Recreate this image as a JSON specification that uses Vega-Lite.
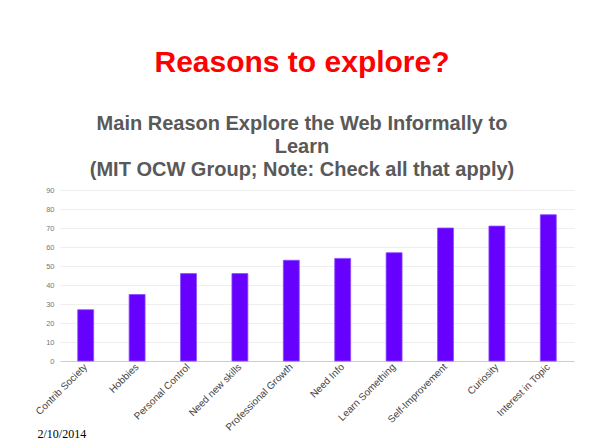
{
  "$schema": "https://vega.github.io/schema/vega-lite/v6.json",
  "width": 514,
  "height": 171,
  "autosize": "none",
  "padding": {"left": 60, "top": 190, "right": 20, "bottom": 86},
  "background": "white",
  "title": {
    "text": "Reasons to explore?",
    "subtitle": ["Main Reason Explore the Web Informally to", "Learn", "(MIT OCW Group; Note: Check all that apply)"],
    "anchor": "middle",
    "dx": -15,
    "font": "Liberation Sans",
    "fontSize": 30,
    "fontWeight": "bold",
    "color": "#ff0000",
    "subtitleFont": "Liberation Sans",
    "subtitleFontSize": 20,
    "subtitleFontWeight": "bold",
    "subtitleColor": "#595959",
    "subtitleLineHeight": 23,
    "subtitlePadding": 36,
    "offset": 6
  },
  "data": {
    "values": [
      {"reason": "Contrib Society", "count": 27},
      {"reason": "Hobbies", "count": 35},
      {"reason": "Personal Control", "count": 46},
      {"reason": "Need new skills", "count": 46},
      {"reason": "Professional Growth", "count": 53},
      {"reason": "Need Info", "count": 54},
      {"reason": "Learn Something", "count": 57},
      {"reason": "Self-Improvement", "count": 70},
      {"reason": "Curiosity", "count": 71},
      {"reason": "Interest in Topic", "count": 77}
    ]
  },
  "mark": {"type": "bar", "color": "#6600ff", "stroke": "#8c4dff", "strokeWidth": 0.8},
  "encoding": {
    "x": {
      "field": "reason",
      "type": "nominal",
      "sort": null,
      "scale": {"paddingInner": 0.69, "paddingOuter": 0.345},
      "axis": {
        "labelAngle": -45,
        "labelAlign": "right",
        "labelBaseline": "middle",
        "labelFont": "Liberation Sans",
        "labelFontSize": 10,
        "labelColor": "#444444",
        "labelPadding": 4,
        "ticks": false,
        "domainColor": "#cccccc",
        "title": "2/10/2014",
        "titleFont": "Liberation Serif",
        "titleFontSize": 12,
        "titleFontWeight": "normal",
        "titleColor": "#000000",
        "titleAnchor": "start",
        "titleAlign": "left",
        "titleBaseline": "alphabetic",
        "titleX": -23,
        "titleY": 76
      }
    },
    "y": {
      "field": "count",
      "type": "quantitative",
      "scale": {"domain": [0, 90]},
      "axis": {
        "values": [0, 10, 20, 30, 40, 50, 60, 70, 80, 90],
        "title": null,
        "ticks": false,
        "domain": false,
        "gridColor": "#eeeeee",
        "labelFont": "Liberation Sans",
        "labelFontSize": 7.5,
        "labelColor": "#777777",
        "labelPadding": 6
      }
    }
  },
  "config": {"view": {"stroke": null}}
}
